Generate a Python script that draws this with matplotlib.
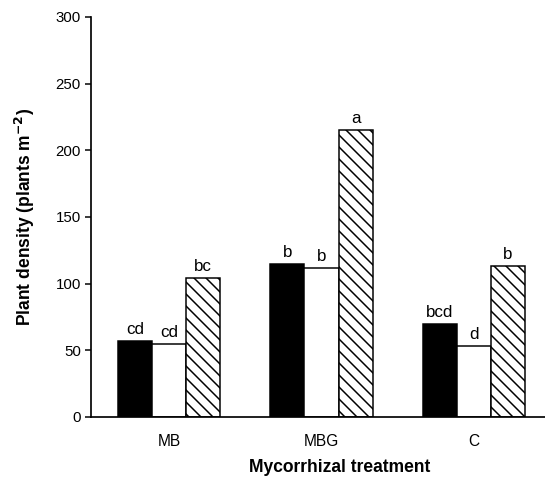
import numpy as np
import matplotlib
matplotlib.use("Agg")
import matplotlib.pyplot as plt

plt.rcParams["font.family"] = ["Liberation Sans", "DejaVu Sans"]
plt.rcParams["hatch.linewidth"] = 1.5

groups = ["MB", "MBG", "C"]
black_vals = [57, 115, 70]
white_vals = [55, 112, 53]
hatch_vals = [104, 215, 113]
black_lbl = ["cd", "b", "bcd"]
white_lbl = ["cd", "b", "d"]
hatch_lbl = ["bc", "a", "b"]

DPI = 72
fig = plt.figure(figsize=(545 / DPI, 493 / DPI), dpi=DPI)
ax = fig.add_axes([91 / 545, 76 / 493, 454 / 545, 400 / 493])

x = np.arange(len(groups))
w = 0.224
series = [(black_vals, black_lbl, "black", ""),
          (white_vals, white_lbl, "white", ""),
          (hatch_vals, hatch_lbl, "white", "\\\\")]
for k, (vals, lbls, fc, h) in enumerate(series):
    pos = x + (k - 1) * w
    ax.bar(pos, vals, width=w, color=fc, edgecolor="black", linewidth=1.5, hatch=h)
    for p, v, t in zip(pos, vals, lbls):
        ax.text(p, v + 3, t, ha="center", va="bottom", fontsize=17)

ax.set_xlim(-0.511, 2.466)
ax.set_ylim(0, 300)
ax.set_yticks(range(0, 301, 50))
ax.set_xticks(x)
ax.set_xticklabels(groups, fontsize=15.5)
ax.tick_params(axis="x", length=0, pad=17)
ax.tick_params(axis="y", length=6, width=1.5, labelsize=15, pad=4)
for s in ["top", "right"]:
    ax.spines[s].set_visible(False)
for s in ["left", "bottom"]:
    ax.spines[s].set_linewidth(1.7)

ax.set_ylabel("Plant density (plants m$^{\\mathbf{-2}}$)", fontsize=17.5, fontweight="bold")
ax.set_xlabel("Mycorrhizal treatment", fontsize=17.5, fontweight="bold")
ax.yaxis.set_label_coords(-0.12, 0.5)
ax.xaxis.set_label_coords(0.548, -0.105)

fig.savefig("out.png", dpi=DPI)
